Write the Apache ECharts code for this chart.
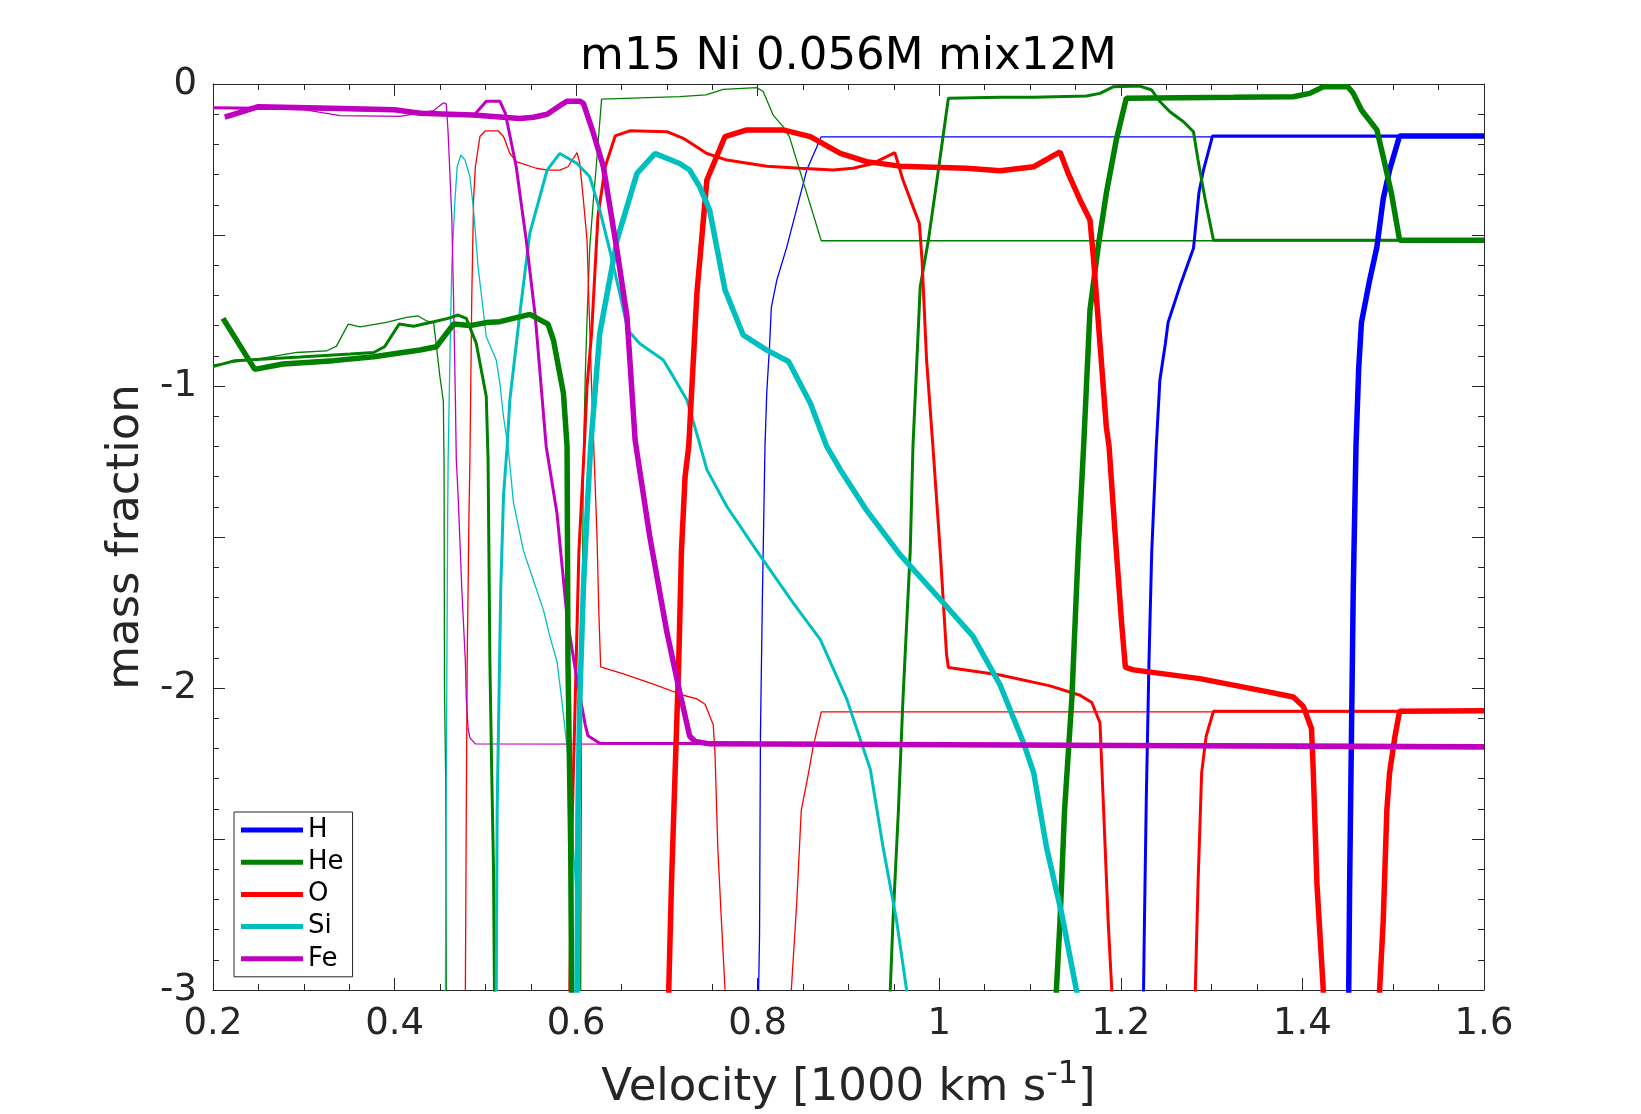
<!DOCTYPE html>
<html>
<head>
<meta charset="utf-8">
<script src="https://cdn.jsdelivr.net/npm/echarts@6/dist/echarts.min.js"></script>
<style>
html,body{margin:0;padding:0;background:#fff;}
#chart{width:1641px;height:1114px;}
</style>
</head>
<body>
<div id="chart"></div>
<script>
// ---------- data: [velocity (1000 km/s), log10 mass fraction] ----------
// model 1 (thin lines)
var H_1 = [[0.800,-3.3],[0.801,-3.0],[0.802,-2.82],[0.803,-2.16],[0.805,-1.73],[0.808,-1.2],[0.810,-1.02],[0.813,-0.87],[0.815,-0.74],[0.821,-0.65],[0.832,-0.54],[0.854,-0.285],[0.870,-0.175],[1.6,-0.175]];
var He_1 = [[0.200,-0.93],[0.250,-0.91],[0.292,-0.889],[0.325,-0.884],[0.336,-0.868],[0.349,-0.795],[0.362,-0.804],[0.391,-0.789],[0.413,-0.773],[0.426,-0.768],[0.435,-0.784],[0.443,-0.789],[0.447,-0.892],[0.450,-0.970],[0.4537,-1.05],[0.4545,-1.25],[0.455,-2.0],[0.4563,-2.3],[0.457,-3.0],[0.458,-3.5],[0.604,-3.5],[0.605,-3.0],[0.606,-2.0],[0.608,-1.25],[0.610,-0.97],[0.612,-0.78],[0.615,-0.54],[0.619,-0.384],[0.623,-0.241],[0.628,-0.05],[0.714,-0.042],[0.743,-0.036],[0.762,-0.018],[0.799,-0.012],[0.806,-0.025],[0.817,-0.103],[0.828,-0.141],[0.835,-0.175],[0.870,-0.519],[1.6,-0.519]];
var O_1 = [[0.477,-3.3],[0.478,-3.0],[0.479,-2.4],[0.480,-1.91],[0.482,-1.42],[0.483,-1.245],[0.485,-0.715],[0.487,-0.384],[0.489,-0.274],[0.494,-0.174],[0.500,-0.155],[0.514,-0.155],[0.520,-0.174],[0.527,-0.230],[0.534,-0.257],[0.556,-0.279],[0.569,-0.285],[0.582,-0.285],[0.591,-0.274],[0.601,-0.227],[0.604,-0.263],[0.608,-0.384],[0.612,-0.517],[0.614,-0.715],[0.617,-1.0],[0.620,-1.25],[0.623,-1.5],[0.625,-1.75],[0.627,-1.93],[0.652,-1.953],[0.685,-1.987],[0.718,-2.024],[0.733,-2.036],[0.742,-2.054],[0.751,-2.122],[0.753,-2.22],[0.756,-2.526],[0.760,-2.771],[0.764,-3.0],[0.766,-3.3],[0.835,-3.3],[0.837,-3.0],[0.843,-2.71],[0.848,-2.404],[0.856,-2.281],[0.861,-2.195],[0.870,-2.079],[1.6,-2.079]];
var Si_1 = [[0.455,-3.3],[0.456,-3.0],[0.457,-2.28],[0.4585,-1.42],[0.459,-1.245],[0.461,-0.9],[0.463,-0.605],[0.4665,-0.384],[0.469,-0.274],[0.473,-0.235],[0.4776,-0.252],[0.483,-0.307],[0.487,-0.417],[0.492,-0.605],[0.498,-0.759],[0.501,-0.837],[0.512,-0.914],[0.516,-0.991],[0.520,-1.102],[0.525,-1.2],[0.531,-1.387],[0.542,-1.546],[0.553,-1.644],[0.564,-1.742],[0.571,-1.828],[0.579,-1.914],[0.584,-2.036],[0.590,-2.195],[0.595,-2.404],[0.600,-2.7],[0.604,-3.0],[0.606,-3.3]];
var Fe_1 = [[0.200,-0.080],[0.300,-0.085],[0.330,-0.100],[0.340,-0.105],[0.406,-0.107],[0.443,-0.088],[0.454,-0.062],[0.457,-0.066],[0.459,-0.163],[0.463,-0.439],[0.465,-0.715],[0.467,-1.046],[0.468,-1.245],[0.470,-1.363],[0.474,-1.669],[0.478,-1.914],[0.479,-2.036],[0.481,-2.134],[0.483,-2.165],[0.489,-2.185],[1.6,-2.19]];

// model 2 (medium lines)
var H_2 = [[1.224,-3.3],[1.225,-3.0],[1.226,-2.77],[1.228,-2.37],[1.231,-1.91],[1.234,-1.55],[1.239,-1.2],[1.243,-0.98],[1.249,-0.86],[1.252,-0.79],[1.265,-0.67],[1.280,-0.544],[1.286,-0.36],[1.291,-0.285],[1.301,-0.172],[1.6,-0.172]];
var He_2 = [[0.200,-0.936],[0.224,-0.916],[0.296,-0.904],[0.351,-0.894],[0.377,-0.889],[0.389,-0.870],[0.405,-0.795],[0.421,-0.802],[0.443,-0.787],[0.459,-0.776],[0.470,-0.765],[0.479,-0.776],[0.490,-0.859],[0.501,-1.035],[0.503,-1.245],[0.505,-1.914],[0.507,-2.28],[0.509,-2.6],[0.510,-3.0],[0.511,-3.5],[0.945,-3.5],[0.946,-3.0],[0.949,-2.771],[0.955,-2.404],[0.960,-2.036],[0.968,-1.546],[0.971,-1.2],[0.979,-0.671],[0.988,-0.517],[0.999,-0.285],[1.010,-0.047],[1.067,-0.044],[1.104,-0.044],[1.162,-0.040],[1.177,-0.031],[1.192,-0.009],[1.221,-0.007],[1.234,-0.020],[1.243,-0.058],[1.254,-0.092],[1.269,-0.125],[1.280,-0.158],[1.285,-0.252],[1.293,-0.384],[1.302,-0.517],[1.6,-0.517]];
var O_2 = [[0.592,-3.3],[0.593,-3.0],[0.596,-2.4],[0.599,-2.04],[0.603,-1.55],[0.609,-1.2],[0.612,-1.0],[0.617,-0.826],[0.624,-0.439],[0.632,-0.274],[0.643,-0.172],[0.659,-0.155],[0.700,-0.158],[0.718,-0.180],[0.744,-0.230],[0.766,-0.252],[0.810,-0.272],[0.847,-0.279],[0.883,-0.285],[0.905,-0.279],[0.927,-0.263],[0.951,-0.227],[0.960,-0.318],[0.971,-0.406],[0.978,-0.461],[0.981,-0.583],[0.986,-0.914],[0.993,-1.2],[1.001,-1.546],[1.008,-1.889],[1.010,-1.932],[1.067,-1.957],[1.122,-1.993],[1.155,-2.024],[1.168,-2.048],[1.177,-2.115],[1.181,-2.404],[1.186,-2.771],[1.190,-3.0],[1.191,-3.3],[1.281,-3.3],[1.282,-3.0],[1.285,-2.649],[1.289,-2.28],[1.294,-2.159],[1.302,-2.077],[1.6,-2.077]];
var Si_2 = [[0.511,-3.3],[0.512,-3.0],[0.513,-2.404],[0.515,-2.036],[0.517,-1.669],[0.520,-1.363],[0.524,-1.2],[0.527,-1.046],[0.538,-0.759],[0.549,-0.494],[0.568,-0.285],[0.582,-0.230],[0.601,-0.263],[0.615,-0.307],[0.626,-0.417],[0.637,-0.550],[0.648,-0.693],[0.657,-0.815],[0.670,-0.859],[0.696,-0.914],[0.707,-0.969],[0.722,-1.046],[0.735,-1.18],[0.744,-1.277],[0.766,-1.399],[0.799,-1.546],[0.839,-1.718],[0.869,-1.840],[0.898,-2.036],[0.924,-2.269],[0.938,-2.526],[0.953,-2.771],[0.964,-3.0],[0.967,-3.1]];
var Fe_2 = [[0.200,-0.079],[0.300,-0.082],[0.400,-0.088],[0.450,-0.098],[0.487,-0.105],[0.501,-0.057],[0.516,-0.057],[0.522,-0.097],[0.534,-0.274],[0.545,-0.517],[0.555,-0.770],[0.567,-1.2],[0.579,-1.424],[0.590,-1.767],[0.601,-1.975],[0.610,-2.122],[0.613,-2.158],[0.626,-2.183],[1.6,-2.19]];

// model 3 (thick lines)
var H_3 = [[1.450,-3.3],[1.451,-3.0],[1.452,-2.65],[1.454,-2.16],[1.456,-1.67],[1.459,-1.2],[1.462,-0.94],[1.465,-0.79],[1.474,-0.65],[1.482,-0.54],[1.489,-0.38],[1.496,-0.285],[1.507,-0.172],[1.6,-0.172]];
var He_3 = [[0.211,-0.776],[0.246,-0.945],[0.277,-0.927],[0.333,-0.916],[0.377,-0.903],[0.428,-0.881],[0.446,-0.870],[0.465,-0.795],[0.483,-0.800],[0.501,-0.790],[0.516,-0.787],[0.549,-0.763],[0.569,-0.795],[0.575,-0.848],[0.586,-1.024],[0.590,-1.2],[0.591,-1.914],[0.594,-2.526],[0.595,-3.0],[0.596,-3.5],[1.128,-3.5],[1.129,-3.0],[1.133,-2.771],[1.138,-2.404],[1.146,-2.036],[1.153,-1.546],[1.159,-1.2],[1.166,-0.748],[1.175,-0.539],[1.184,-0.362],[1.195,-0.185],[1.206,-0.047],[1.324,-0.044],[1.390,-0.042],[1.408,-0.031],[1.423,-0.009],[1.450,-0.009],[1.456,-0.031],[1.465,-0.086],[1.482,-0.152],[1.489,-0.241],[1.498,-0.362],[1.507,-0.517],[1.6,-0.517]];
var O_3 = [[0.701,-3.3],[0.702,-3.0],[0.705,-2.65],[0.709,-2.28],[0.713,-1.914],[0.716,-1.546],[0.720,-1.30],[0.724,-1.2],[0.733,-0.693],[0.744,-0.318],[0.764,-0.174],[0.788,-0.152],[0.828,-0.152],[0.858,-0.174],[0.891,-0.230],[0.920,-0.257],[0.957,-0.272],[1.030,-0.279],[1.067,-0.287],[1.104,-0.274],[1.133,-0.225],[1.142,-0.296],[1.155,-0.384],[1.166,-0.450],[1.170,-0.583],[1.177,-0.859],[1.184,-1.135],[1.187,-1.2],[1.195,-1.546],[1.201,-1.791],[1.205,-1.932],[1.214,-1.94],[1.287,-1.969],[1.361,-2.012],[1.390,-2.030],[1.401,-2.061],[1.410,-2.134],[1.412,-2.28],[1.416,-2.65],[1.423,-3.0],[1.425,-3.3],[1.484,-3.3],[1.485,-3.0],[1.489,-2.771],[1.493,-2.404],[1.496,-2.28],[1.502,-2.159],[1.507,-2.077],[1.6,-2.075]];
var Si_3 = [[0.600,-3.3],[0.601,-3.0],[0.602,-2.404],[0.604,-2.036],[0.608,-1.669],[0.613,-1.363],[0.616,-1.2],[0.626,-0.826],[0.645,-0.517],[0.667,-0.296],[0.687,-0.230],[0.714,-0.263],[0.725,-0.285],[0.736,-0.340],[0.747,-0.417],[0.764,-0.682],[0.784,-0.831],[0.810,-0.881],[0.834,-0.919],[0.858,-1.057],[0.876,-1.2],[0.891,-1.277],[0.920,-1.412],[0.957,-1.559],[0.997,-1.693],[1.037,-1.828],[1.067,-1.99],[1.093,-2.183],[1.104,-2.281],[1.118,-2.526],[1.135,-2.75],[1.151,-3.0],[1.154,-3.05]];
var Fe_3 = [[0.213,-0.110],[0.250,-0.075],[0.330,-0.080],[0.400,-0.085],[0.428,-0.097],[0.487,-0.103],[0.538,-0.114],[0.553,-0.110],[0.568,-0.100],[0.586,-0.064],[0.590,-0.057],[0.604,-0.057],[0.608,-0.064],[0.619,-0.163],[0.630,-0.274],[0.645,-0.550],[0.656,-0.770],[0.665,-1.18],[0.681,-1.497],[0.700,-1.816],[0.714,-2.012],[0.725,-2.159],[0.731,-2.177],[0.747,-2.185],[1.6,-2.195]];

var elements = ['H','He','O','Si','Fe'];
var elementColors = ['#0000ff','#008000','#ff0000','#00bfbf','#bf00bf'];
var modelData = [
  [H_1, He_1, O_1, Si_1, Fe_1],
  [H_2, He_2, O_2, Si_2, Fe_2],
  [H_3, He_3, O_3, Si_3, Fe_3]
];
var modelWidths = [1.3, 3, 5.5];
var titleText = 'm15 Ni 0.056M mix12M';

// ---------- chart ----------
var FONT = 'DejaVu Sans';
var AX = '#262626';
var series = [];
modelData.forEach(function (set, m) {
  set.forEach(function (d, e) {
    series.push({
      type: 'line', name: elements[e], data: d,
      xAxisIndex: 0, yAxisIndex: 0,
      showSymbol: false, symbol: 'none', clip: true, silent: true,
      color: elementColors[e],
      lineStyle: { color: elementColors[e], width: modelWidths[m] },
      emphasis: { disabled: true }
    });
  });
});

function axisCommon(extra) {
  var o = {
    type: 'value',
    axisLine: { show: true, onZero: false, lineStyle: { color: AX, width: 1 } },
    axisTick: { show: true, inside: true, length: 12, lineStyle: { color: AX, width: 1 } },
    minorTick: { show: true, length: 6, lineStyle: { color: AX, width: 1 } },
    splitLine: { show: false },
    minorSplitLine: { show: false }
  };
  for (var k in extra) o[k] = extra[k];
  return o;
}

var chart = echarts.init(document.getElementById('chart'), null, { renderer: 'canvas' });
chart.setOption({
  animation: false,
  backgroundColor: '#ffffff',
  textStyle: { fontFamily: FONT },
  title: {
    text: titleText, left: 848.5, top: 35, textAlign: 'center', padding: 0,
    textStyle: { fontFamily: FONT, fontSize: 45, fontWeight: 'normal', color: '#000', lineHeight: 45 }
  },
  grid: { left: 213, top: 84, right: 157, bottom: 124, containLabel: false, outerBoundsMode: 'none' },
  legend: {
    orient: 'vertical', left: 234, top: 812, padding: [5, 9, 5, 7],
    itemWidth: 62, itemHeight: 5, itemGap: 6.2, icon: 'rect',
    backgroundColor: '#fff', borderColor: AX, borderWidth: 1, borderRadius: 0,
    selectedMode: false,
    textStyle: { fontFamily: FONT, fontSize: 26, color: '#000', lineHeight: 25 },
    itemStyle: { borderWidth: 0 },
    data: elements.map(function (n, i) { return { name: n, itemStyle: { color: elementColors[i], borderWidth: 0 } }; })
  },
  xAxis: [
    axisCommon({
      position: 'bottom', min: 0.2, max: 1.6, interval: 0.2,
      minorTick: { show: true, splitNumber: 4, length: 6, lineStyle: { color: AX, width: 1 } },
      axisLabel: { show: true, margin: 16, fontFamily: FONT, fontSize: 37, color: AX },
      name: '{b|Velocity [1000 km s}{s|-1}{b|]}', nameLocation: 'middle', nameGap: 76,
      nameTextStyle: {
        fontFamily: FONT, fontSize: 45, color: AX, lineHeight: 45,
        rich: {
          b: { fontFamily: FONT, fontSize: 45, color: AX, lineHeight: 45 },
          s: { fontFamily: FONT, fontSize: 32, color: AX, lineHeight: 32, padding: [0, 0, 28, 0] }
        }
      }
    }),
    axisCommon({
      position: 'top', min: 0.2, max: 1.6, interval: 0.2,
      minorTick: { show: true, splitNumber: 4, length: 6, lineStyle: { color: AX, width: 1 } },
      axisLabel: { show: false }
    })
  ],
  yAxis: [
    axisCommon({
      position: 'left', min: -3, max: 0, interval: 0.5,
      minorTick: { show: true, splitNumber: 5, length: 6, lineStyle: { color: AX, width: 1 } },
      axisLabel: {
        show: true, margin: 16, fontFamily: FONT, fontSize: 37, color: AX,
        formatter: function (v) { return Math.abs(v - Math.round(v)) < 1e-9 ? String(Math.round(v)) : ''; }
      },
      name: 'mass fraction', nameLocation: 'middle', nameGap: 56, nameRotate: 90,
      nameTextStyle: { fontFamily: FONT, fontSize: 45, color: AX, lineHeight: 45 }
    }),
    axisCommon({
      position: 'right', min: -3, max: 0, interval: 0.5,
      minorTick: { show: true, splitNumber: 5, length: 6, lineStyle: { color: AX, width: 1 } },
      axisLabel: { show: false }
    })
  ],
  series: series
});
</script>
</body>
</html>
